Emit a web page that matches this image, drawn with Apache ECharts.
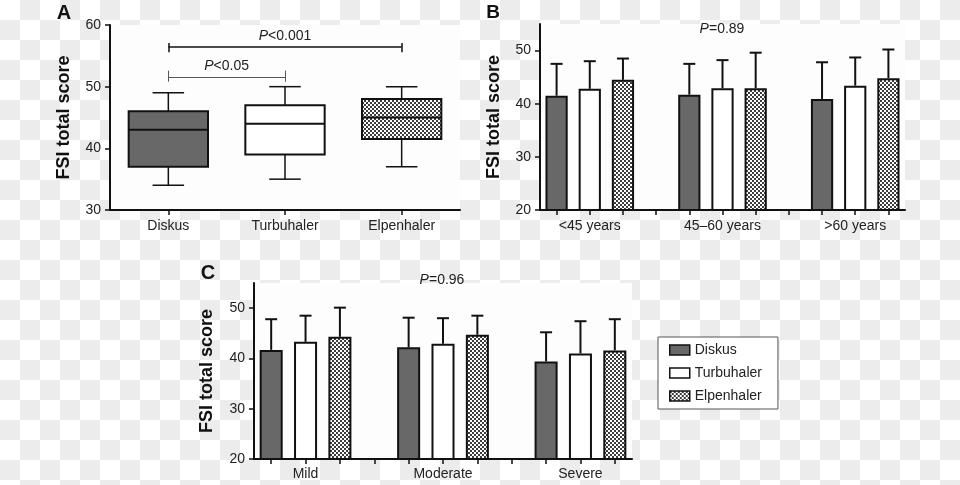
<!DOCTYPE html>
<html><head><meta charset="utf-8">
<script src="https://cdn.jsdelivr.net/npm/echarts@6/dist/echarts.min.js"></script>
<style>
html,body{margin:0;padding:0;}
body{width:960px;height:485px;background:#fff repeating-conic-gradient(#ececec 0 25%, #ffffff 0 50%) 0 0/40px 40px;}
#c{width:960px;height:485px;}
</style></head><body><div id="c"></div>
<script>
// ---------- data ----------
const inhalers = ['Diskus', 'Turbuhaler', 'Elpenhaler'];
// Panel A boxplots: [min, Q1, median, Q3, max]
const boxDiskus = [34, 37, 43, 46, 49];
const boxTurbuhaler = [35, 39, 44, 47, 50];
const boxElpenhaler = [37, 41.5, 45, 48, 50];
const yTicksA = [30, 40, 50, 60];
// Panel B: by age
const ageGroups = ['<45 years', '45–60 years', '>60 years'];
const ageMeanDiskus = [41.5, 41.7, 40.9];
const ageSdDiskus = [6.0, 5.8, 6.9];
const ageMeanTurbuhaler = [42.8, 42.9, 43.4];
const ageSdTurbuhaler = [5.2, 5.3, 5.3];
const ageMeanElpenhaler = [44.5, 42.9, 44.8];
const ageSdElpenhaler = [4.0, 6.7, 5.4];
// Panel C: by severity
const severityGroups = ['Mild', 'Moderate', 'Severe'];
const sevMeanDiskus = [41.7, 42.2, 39.4];
const sevSdDiskus = [6.1, 5.9, 5.8];
const sevMeanTurbuhaler = [43.3, 42.9, 41.0];
const sevSdTurbuhaler = [5.2, 5.1, 6.4];
const sevMeanElpenhaler = [44.3, 44.7, 41.6];
const sevSdElpenhaler = [5.8, 3.8, 6.2];
const yTicksBC = [20, 30, 40, 50];
// significance annotations (panel A)
const sigLabels = ['P<0.001', 'P<0.05'];
const sigFrom = ['Diskus', 'Diskus'];
const sigTo = ['Elpenhaler', 'Turbuhaler'];
const sigLevel = [56.4, 51.6];
const sigTickTop = [57.1, 52.6];
const sigTickBottom = [55.6, 50.8];
const pB = '=0.89';
const pC = '=0.96';

// ---------- styles ----------
const FONT = '"Liberation Sans", Arial, sans-serif';
const INK = '#111';
const DARK = '#686868';
function checker(s, dark, light) {
  const c = document.createElement('canvas');
  c.width = c.height = 2 * s;
  const g = c.getContext('2d');
  g.fillStyle = light; g.fillRect(0, 0, 2 * s, 2 * s);
  g.fillStyle = dark; g.fillRect(0, 0, s, s); g.fillRect(s, s, s, s);
  return c;
}
const CHECK = { image: checker(2, '#3c3c3c', '#ffffff'), repeat: 'repeat' };
const fills = [DARK, '#ffffff', CHECK];

const NG = 3, PER = 4, NSLOTS = NG * PER - 1;
const slotNames = Array.from({ length: NSLOTS }, (_, i) => 's' + i);
function slotArray(values, k) {
  const a = new Array(NSLOTS).fill('-');
  values.forEach((v, g) => { a[g * PER + k] = v; });
  return a;
}
function errArray(means, sds, k) {
  return means.map((m, g) => [g * PER + k, m, +(m + sds[g]).toFixed(2)]);
}
function slotLabel(groups) {
  return (v, i) => (i % PER === 1 ? groups[(i - 1) / PER] : '');
}

function renderBox(params, api) {
  const i = api.value(0);
  const band = api.size([1, 0])[0];
  const bw = band * 0.68, cw = band * 0.27;
  const pMin = api.coord([i, api.value(1)]);
  const pQ1 = api.coord([i, api.value(2)]);
  const pMed = api.coord([i, api.value(3)]);
  const pQ3 = api.coord([i, api.value(4)]);
  const pMax = api.coord([i, api.value(5)]);
  const x = pMed[0];
  const ls = { stroke: INK, lineWidth: 1.5 };
  return { type: 'group', children: [
    { type: 'line', shape: { x1: x, y1: pMax[1], x2: x, y2: pQ3[1] }, style: ls },
    { type: 'line', shape: { x1: x, y1: pQ1[1], x2: x, y2: pMin[1] }, style: ls },
    { type: 'line', shape: { x1: x - cw / 2, y1: pMax[1], x2: x + cw / 2, y2: pMax[1] }, style: ls },
    { type: 'line', shape: { x1: x - cw / 2, y1: pMin[1], x2: x + cw / 2, y2: pMin[1] }, style: ls },
    { type: 'rect', shape: { x: x - bw / 2, y: pQ3[1], width: bw, height: pQ1[1] - pQ3[1] },
      style: { fill: fills[i], stroke: INK, lineWidth: 2 } },
    { type: 'line', shape: { x1: x - bw / 2, y1: pMed[1], x2: x + bw / 2, y2: pMed[1] }, style: { stroke: INK, lineWidth: 2 } }
  ] };
}
function renderErr(params, api) {
  const s = api.value(0);
  const p0 = api.coord([s, api.value(1)]);
  const p1 = api.coord([s, api.value(2)]);
  const hw = 6;
  return { type: 'group', children: [
    { type: 'line', shape: { x1: p0[0], y1: p0[1], x2: p1[0], y2: p1[1] }, style: { stroke: INK, lineWidth: 2 } },
    { type: 'line', shape: { x1: p1[0] - hw, y1: p1[1], x2: p1[0] + hw, y2: p1[1] }, style: { stroke: INK, lineWidth: 2 } }
  ] };
}

const axisLineDef = { show: true, lineStyle: { color: INK, width: 2 } };
function xAxisDef(gi, data, formatter, margin) {
  return {
    type: 'category', gridIndex: gi, data: data,
    axisLine: axisLineDef, splitLine: { show: false },
    axisTick: { show: true, length: 5, alignWithLabel: true, interval: 0, lineStyle: { color: INK, width: 1.5 } },
    axisLabel: { interval: 0, margin: margin, color: '#222', fontSize: 14, fontFamily: FONT, formatter: formatter }
  };
}
function yAxisDef(gi, min, max, ticks, gap) {
  return {
    type: 'value', gridIndex: gi, min: min, max: max, interval: 10,
    axisLine: axisLineDef, splitLine: { show: false },
    name: 'FSI total score', nameLocation: 'middle', nameGap: gap,
    nameTextStyle: { fontSize: 18, fontWeight: 'bold', color: INK, fontFamily: FONT },
    axisTick: { show: true, length: 5, customValues: ticks, lineStyle: { color: INK, width: 1.5 } },
    axisLabel: { margin: 9, color: '#222', fontSize: 14, fontFamily: FONT, customValues: ticks }
  };
}

const sigData = [];
sigLabels.forEach((lab, k) => {
  const ls = { color: k === 0 ? INK : '#555', width: k === 0 ? 1.5 : 1, type: 'solid' };
  sigData.push([
    { coord: [sigFrom[k], sigLevel[k]], lineStyle: ls,
      label: { show: true, position: 'insideMiddleTop', distance: 4, formatter: '{i|P}' + lab.slice(1),
        color: '#222', fontSize: 14, fontFamily: FONT, rich: { i: { fontStyle: 'italic', fontSize: 14, color: '#222', fontFamily: FONT } } } },
    { coord: [sigTo[k], sigLevel[k]] }
  ]);
  [sigFrom[k], sigTo[k]].forEach(c => {
    sigData.push([{ coord: [c, sigTickTop[k]], lineStyle: ls, label: { show: false } }, { coord: [c, sigTickBottom[k]] }]);
  });
});

const series = [{
  type: 'custom', name: 'box', xAxisIndex: 0, yAxisIndex: 0,
  renderItem: renderBox,
  encode: { x: 0, y: [1, 2, 3, 4, 5] },
  data: [[0].concat(boxDiskus), [1].concat(boxTurbuhaler), [2].concat(boxElpenhaler)],
  markLine: { silent: true, symbol: ['none', 'none'], animation: false, label: { show: false }, data: sigData }
}];

const panels = [
  { gi: 1, means: [ageMeanDiskus, ageMeanTurbuhaler, ageMeanElpenhaler], sds: [ageSdDiskus, ageSdTurbuhaler, ageSdElpenhaler] },
  { gi: 2, means: [sevMeanDiskus, sevMeanTurbuhaler, sevMeanElpenhaler], sds: [sevSdDiskus, sevSdTurbuhaler, sevSdElpenhaler] }
];
panels.forEach(p => {
  inhalers.forEach((name, k) => {
    series.push({
      type: 'bar', name: name, xAxisIndex: p.gi, yAxisIndex: p.gi,
      barWidth: '67%', barGap: '-100%',
      itemStyle: { color: fills[k], borderColor: INK, borderWidth: 2 },
      data: slotArray(p.means[k], k), z: 2
    });
  });
  inhalers.forEach((name, k) => {
    series.push({
      type: 'custom', name: name + ' SD', xAxisIndex: p.gi, yAxisIndex: p.gi,
      renderItem: renderErr, encode: { x: 0, y: [1, 2] },
      data: errArray(p.means[k], p.sds[k], k), z: 3
    });
  });
});

const richP = { i: { fontStyle: 'italic', fontSize: 14, fill: '#222', fontFamily: FONT } };
const chart = echarts.init(document.getElementById('c'), null, { renderer: 'canvas' });
chart.setOption({
  backgroundColor: 'transparent',
  animation: false,
  grid: [
    { left: 110, top: 25, width: 350, height: 185, show: true, backgroundColor: '#fdfdfd', borderWidth: 0 },
    { left: 540, top: 24, width: 365, height: 186, show: true, backgroundColor: '#fdfdfd', borderWidth: 0 },
    { left: 254, top: 283, width: 378, height: 176, show: true, backgroundColor: '#fdfdfd', borderWidth: 0 }
  ],
  xAxis: [
    xAxisDef(0, inhalers, null, 9),
    xAxisDef(1, slotNames, slotLabel(ageGroups), 9),
    xAxisDef(2, slotNames, slotLabel(severityGroups), 8)
  ],
  yAxis: [
    yAxisDef(0, 30, 60, yTicksA, 37),
    yAxisDef(1, 20, 55, yTicksBC, 37),
    yAxisDef(2, 20, 55, yTicksBC, 38)
  ],
  legend: {
    data: inhalers, orient: 'vertical', left: 658, top: 337,
    padding: [6, 16, 6, 11], itemWidth: 20, itemHeight: 10, itemGap: 9,
    borderColor: '#555', borderWidth: 1, backgroundColor: '#ffffff',
    selectedMode: false, icon: 'rect',
    itemStyle: { borderWidth: 1.5, borderColor: INK },
    textStyle: { fontSize: 14, color: '#222', fontFamily: FONT }
  },
  graphic: [
    { type: 'text', x: 64, y: 13, style: { text: 'A', font: 'bold 20px ' + FONT, fill: INK, align: 'center', verticalAlign: 'middle' } },
    { type: 'text', x: 493, y: 13, style: { text: 'B', font: 'bold 19px ' + FONT, fill: INK, align: 'center', verticalAlign: 'middle' } },
    { type: 'text', x: 208, y: 273, style: { text: 'C', font: 'bold 20px ' + FONT, fill: INK, align: 'center', verticalAlign: 'middle' } },
    { type: 'text', x: 722, y: 29, style: { text: '{i|P}' + pB, rich: richP, font: '14px ' + FONT, fill: '#222', align: 'center', verticalAlign: 'middle' } },
    { type: 'text', x: 442, y: 280, style: { text: '{i|P}' + pC, rich: richP, font: '14px ' + FONT, fill: '#222', align: 'center', verticalAlign: 'middle' } }
  ],
  series: series
});
</script></body></html>
